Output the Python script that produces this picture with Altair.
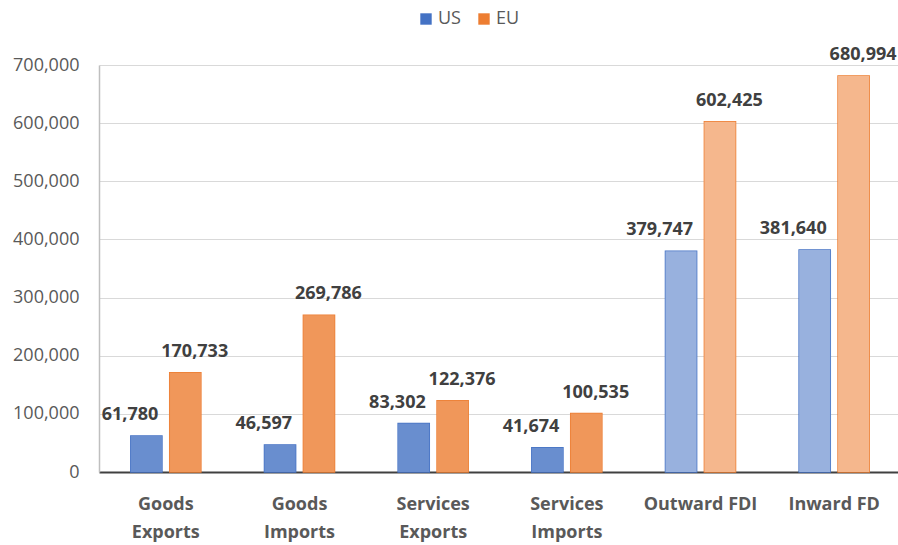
import altair as alt
import pandas as pd

categories = ["Goods Exports", "Goods Imports", "Services Exports",
              "Services Imports", "Outward FDI", "Inward FD"]
us_values = [61780, 46597, 83302, 41674, 379747, 381640]
eu_values = [170733, 269786, 122376, 100535, 602425, 680994]
patterns = ["dots", "dots", "dots", "dots", "stripes", "stripes"]
series = ["US", "EU"]
y_ticks = [0, 100000, 200000, 300000, 400000, 500000, 600000, 700000]

rows = []
for c, u, e, p in zip(categories, us_values, eu_values, patterns):
    rows.append({"category": c, "series": "US", "value": u, "pattern": p})
    rows.append({"category": c, "series": "EU", "value": e, "pattern": p})
df = pd.DataFrame(rows)

FONT = "Open Sans"
BASE = ["#4472C4", "#ED7D31"]

x_enc = alt.X("category:N", sort=categories, title=None,
              scale=alt.Scale(paddingInner=0.476, paddingOuter=0.238),
              axis=alt.Axis(labelAngle=0, ticks=False, labelFontSize=18,
                            labelFont=FONT, labelFontWeight="bold",
                            labelColor="#595959", labelPadding=23,
                            labelLineHeight=28, domainColor="#404040",
                            domainWidth=2, grid=False,
                            labelExpr="indexof(datum.label, 'FD') >= 0 ? datum.label : split(datum.label, ' ')"))
xo_enc = alt.XOffset("series:N", sort=series,
                     scale=alt.Scale(paddingInner=0.2))
y_enc = alt.Y("value:Q", title=None,
              scale=alt.Scale(domain=[0, 700000], nice=False),
              axis=alt.Axis(values=y_ticks, format=",.0f", ticks=False,
                            labelFontSize=18, labelFont=FONT,
                            labelColor="#595959", labelPadding=20,
                            domainColor="#bfbfbf", domainWidth=1.5,
                            gridColor="#d9d9d9", gridWidth=1))

base = alt.Chart(df)

bars = base.mark_bar(strokeWidth=1.5).encode(
    x=x_enc, xOffset=xo_enc, y=y_enc,
    color=alt.Color("series:N", sort=series,
                    scale=alt.Scale(domain=series, range=BASE),
                    legend=alt.Legend(title=None, orient="none",
                                      direction="horizontal",
                                      legendX=318, legendY=-55,
                                      symbolType="square", symbolSize=130,
                                      symbolStrokeWidth=0,
                                      labelFontSize=18, labelFont=FONT,
                                      labelColor="#595959",
                                      columnPadding=14, labelOffset=3)),
    stroke=alt.Stroke("series:N", sort=series,
                      scale=alt.Scale(domain=series, range=BASE),
                      legend=None),
)

tint = base.mark_bar(color="white", strokeWidth=0).encode(
    x=x_enc, xOffset=xo_enc, y=y_enc,
    opacity=alt.Opacity("pattern:N",
                        scale=alt.Scale(domain=["dots", "stripes"],
                                        range=[0.2, 0.45]),
                        legend=None),
)

label_style = dict(fontSize=18, font=FONT, fontWeight="bold",
                   color="#404040", baseline="alphabetic", dy=-16)

us_labels = base.transform_filter(alt.datum.series == "US").mark_text(
    align="right", dx=12, **label_style).encode(
    x=x_enc, xOffset=xo_enc, y=y_enc,
    text=alt.Text("value:Q", format=",.0f"))

eu_labels = base.transform_filter(alt.datum.series == "EU").mark_text(
    align="left", dx=-24, **label_style).encode(
    x=x_enc, xOffset=xo_enc, y=y_enc,
    text=alt.Text("value:Q", format=",.0f"))

chart = alt.layer(bars, tint, us_labels, eu_labels).properties(
    width=802, height=407,
    autosize=alt.AutoSizeParams(type="none"),
    padding={"left": 99, "top": 65, "right": -3, "bottom": 73},
    background="white",
).configure_view(stroke=None)

chart.save("out.html", embed_options={"renderer": "svg", "actions": False})
